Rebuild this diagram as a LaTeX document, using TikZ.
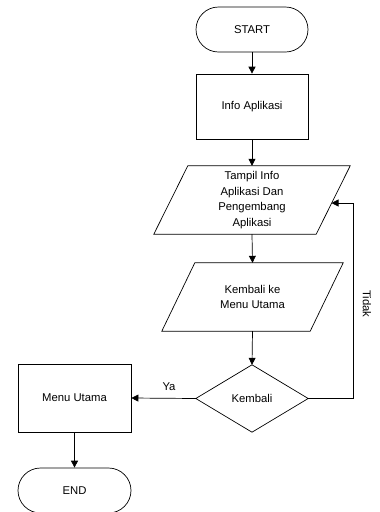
\documentclass[tikz,border=0pt]{standalone}
\usepackage{fontspec}
\setmainfont{Liberation Sans}
\usetikzlibrary{arrows.meta}
\tikzset{
  base/.style={inner sep=0pt, align=center, font=\fontsize{11.3}{15.7}\selectfont},
  term/.style={base, draw, line width=0.7pt, rounded corners=22.5pt, minimum width=112pt, minimum height=45pt},
  proc/.style={base, draw, line width=0.7pt, minimum width=112pt, minimum height=65pt},
  iobox/.style={base, minimum height=68pt},
  decbox/.style={base, minimum width=112pt, minimum height=67pt},
  shapeline/.style={line width=0.7pt, line join=miter},
  arr/.style={line width=0.7pt, -{Triangle[length=7pt,width=7pt]}},
  lbl/.style={base}
}
\begin{document}
\begin{tikzpicture}[x=1pt,y=-1pt]
\useasboundingbox (0,0) rectangle (380,512);
\node[term] (start) at (252,29.5) {START};
\node[proc] (info) at (252,106.5) {Info Aplikasi};
\node[iobox, minimum width=162pt] (tampil) at (252,200) {Tampil Info\\Aplikasi Dan\\Pengembang\\Aplikasi};
\draw[shapeline] ([xshift=17pt]tampil.north west) -- ([xshift=17pt]tampil.north east) -- ([xshift=-17pt]tampil.south east) -- ([xshift=-17pt]tampil.south west) -- cycle;
\node[iobox, minimum width=148pt] (kembke) at (252.5,297) {Kembali ke\\Menu Utama};
\draw[shapeline] ([xshift=16.5pt]kembke.north west) -- ([xshift=16.5pt]kembke.north east) -- ([xshift=-16.5pt]kembke.south east) -- ([xshift=-16.5pt]kembke.south west) -- cycle;
\node[decbox] (dec) at (252,398.5) {Kembali};
\draw[shapeline] (dec.north) -- (dec.east) -- (dec.south) -- (dec.west) -- cycle;
\node[proc, minimum width=113pt, minimum height=68pt] (menu) at (74.5,398) {Menu Utama};
\node[term, minimum width=113pt] (end) at (74.5,490.5) {END};
\coordinate (tin) at (331.5,203);
\coordinate (loopc) at (353,398.5);
\draw[arr] (start) -- (info);
\draw[arr] (info) -- (tampil.north);
\draw[arr] (tampil.south) -- (kembke.north);
\draw[arr] (kembke.south) -- (dec.north);
\draw[arr] (dec.west) -- (menu.east);
\draw[arr] (menu) -- (end);
\draw[arr] (dec.east) -- (loopc) |- (tin);
\node[lbl] (ya) at (169,387) {Ya};
\node[lbl, rotate=-90] (tidak) at (367,304) {Tidak};
\end{tikzpicture}
\end{document}
